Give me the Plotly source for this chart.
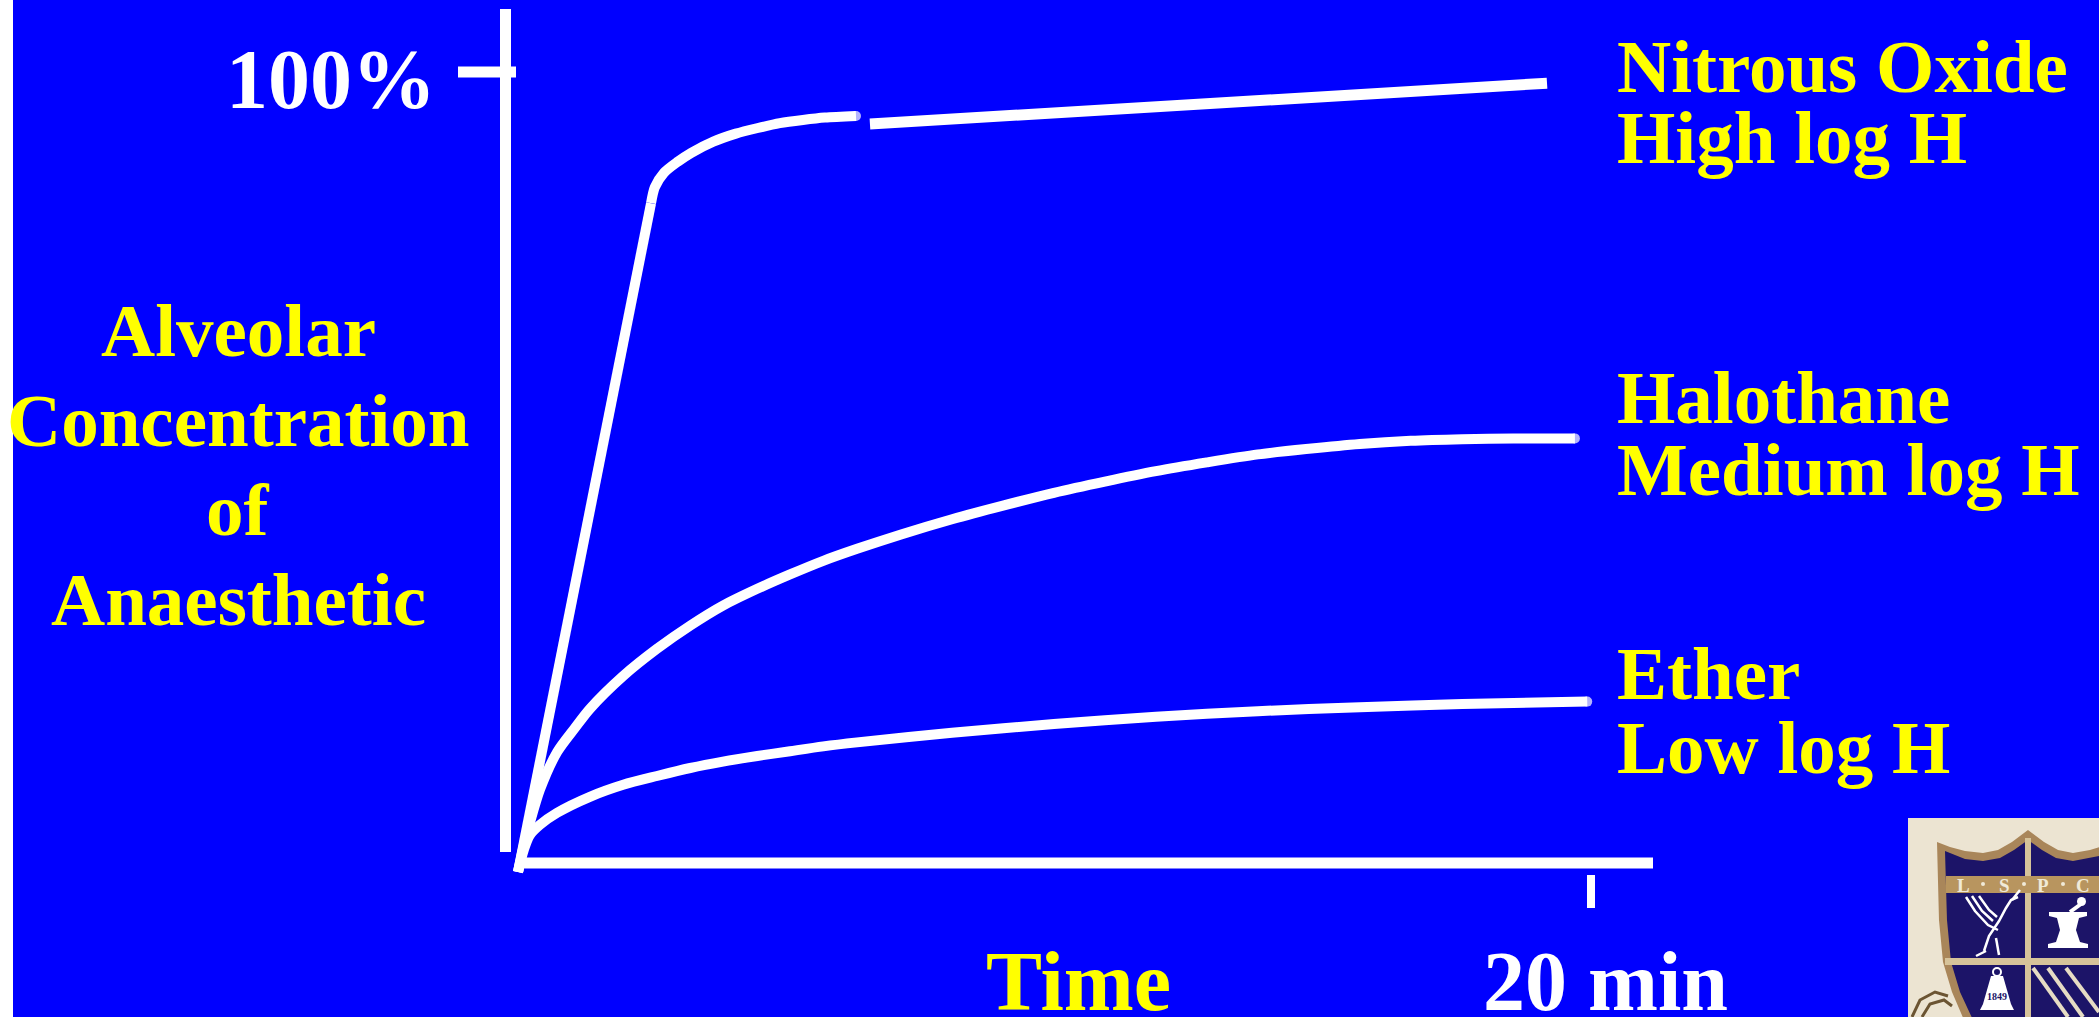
import plotly.graph_objects as go

# ---------------- data (time in minutes, concentration in % of inspired) ----------------
n2o_rise_t = [0.0, 2.48]
n2o_rise_c = [0.0, 83.6]
n2o_curve_t = [2.48, 2.55, 2.72, 2.98, 3.23, 3.64, 4.06, 4.47, 4.88, 5.31, 5.72, 6.30]
n2o_curve_c = [83.6, 85.6, 87.4, 88.8, 89.9, 91.3, 92.3, 93.0, 93.6, 94.0, 94.3, 94.5]
n2o_tail_t = [6.56, 19.18]
n2o_tail_c = [93.5, 98.6]

halo_t = [0.0, 0.09, 0.22, 0.41, 0.73, 1.06, 1.34, 1.96, 2.59, 3.21, 3.82, 4.46, 5.07,
          5.69, 6.32, 7.14, 8.09, 9.04, 9.99, 10.94, 11.89, 12.84, 13.79, 14.74, 15.69,
          16.64, 17.60, 18.55, 19.70]
halo_c = [0.0, 2.8, 6.1, 10.3, 15.0, 18.0, 20.4, 24.5, 27.9, 30.8, 33.3, 35.4, 37.2,
          38.9, 40.4, 42.2, 44.1, 45.8, 47.4, 48.8, 50.1, 51.2, 52.2, 52.9, 53.5,
          53.9, 54.1, 54.2, 54.2]

ether_t = [0.0, 0.11, 0.22, 0.41, 0.73, 1.34, 1.96, 2.59, 3.21, 3.82, 4.46, 5.07, 5.69,
           6.32, 8.09, 9.99, 11.89, 13.79, 15.69, 17.60, 19.93]
ether_c = [0.0, 2.8, 4.6, 5.9, 7.4, 9.4, 10.9, 12.0, 13.0, 13.8, 14.5, 15.1, 15.7,
           16.2, 17.4, 18.5, 19.4, 20.1, 20.6, 21.0, 21.3]

y_tick_vals = [100]
y_tick_text = ["100%"]
x_tick_vals = [20]
x_tick_text = ["20 min"]
x_title = "Time"
y_title_lines = ["Alveolar", "Concentration", "of", "Anaesthetic"]
series_labels = [["Nitrous Oxide", "High log H"],
                 ["Halothane", "Medium log H"],
                 ["Ether", "Low log H"]]
crest_letters = ["L", "S", "P", "C"]
crest_year = "1849"

# ---------------- layout constants ----------------
W, H = 2099, 1017
X0_PX, PX_PER_MIN = 518.0, 53.65
Y0_PX, PX_PER_PCT = 872.0, 8.0
BLUE = "#0000FF"
YELLOW = "#FFFF00"
WHITE = "#FFFFFF"
FONT = "Liberation Serif, Times New Roman, serif"


def dx(px):
    return (px - X0_PX) / PX_PER_MIN


def dy(py):
    return (Y0_PX - py) / PX_PER_PCT


def pp(px, py):
    return px / W, 1 - py / H


def path(pts, close=True):
    s = "M " + " L ".join(f"{px / W:.5f},{1 - py / H:.5f}" for px, py in pts)
    return s + (" Z" if close else "")


def end_marker(n):
    return dict(size=[0] * (n - 1) + [10], color=WHITE, line=dict(width=0))


fig = go.Figure()

fig.add_trace(go.Scatter(x=n2o_rise_t, y=n2o_rise_c, mode="lines",
                         line=dict(color=WHITE, width=10),
                         hoverinfo="skip", showlegend=False))
fig.add_trace(go.Scatter(x=n2o_curve_t, y=n2o_curve_c, mode="lines+markers",
                         line=dict(color=WHITE, width=10, shape="spline", smoothing=0.8),
                         marker=end_marker(len(n2o_curve_t)),
                         hoverinfo="skip", showlegend=False))
fig.add_trace(go.Scatter(x=n2o_tail_t, y=n2o_tail_c, mode="lines",
                         line=dict(color=WHITE, width=11), hoverinfo="skip", showlegend=False))
fig.add_trace(go.Scatter(x=halo_t, y=halo_c, mode="lines+markers",
                         line=dict(color=WHITE, width=10, shape="spline", smoothing=0.8),
                         marker=end_marker(len(halo_t)),
                         hoverinfo="skip", showlegend=False))
fig.add_trace(go.Scatter(x=ether_t, y=ether_c, mode="lines+markers",
                         line=dict(color=WHITE, width=10, shape="spline", smoothing=0.8),
                         marker=end_marker(len(ether_t)),
                         hoverinfo="skip", showlegend=False))

shapes = []
# white strip at left edge
shapes.append(dict(type="rect", xref="paper", yref="paper", x0=0, x1=13 / W, y0=0, y1=1,
                   fillcolor=WHITE, line=dict(width=0), layer="below"))
# axes
shapes.append(dict(type="line", xref="x", yref="y", x0=dx(505.5), x1=dx(505.5),
                   y0=dy(852), y1=dy(9), line=dict(color=WHITE, width=11)))
shapes.append(dict(type="line", xref="x", yref="y", x0=dx(516), x1=dx(1653),
                   y0=dy(863), y1=dy(863), line=dict(color=WHITE, width=11)))
for v in y_tick_vals:
    shapes.append(dict(type="line", xref="x", yref="y", x0=dx(458), x1=dx(516),
                       y0=v, y1=v, line=dict(color=WHITE, width=11)))
for v in x_tick_vals:
    shapes.append(dict(type="line", xref="x", yref="y", x0=v, x1=v,
                       y0=dy(875), y1=dy(908), line=dict(color=WHITE, width=8)))

# ---------------- crest (bottom-right logo) ----------------
BEIGE, TAN, NAVY, LIGHT = "#ECE4D2", "#A9865A", "#1C1468", "#D6C39A"
shapes.append(dict(type="rect", xref="paper", yref="paper", x0=1908 / W, x1=1, y0=0,
                   y1=1 - 818 / H, fillcolor=BEIGE, line=dict(width=0)))
outer = [(1937, 842), (1950, 847), (1965, 851), (1983, 853), (1998, 850), (2012, 842),
         (2028, 830), (2044, 842), (2058, 850), (2073, 853), (2090, 850), (2110, 844),
         (2110, 1020), (1964, 1020), (1952, 992), (1943, 962), (1939, 920)]
inner = [(1945, 851), (1965, 859), (1983, 861), (2000, 858), (2014, 850), (2028, 840),
         (2042, 850), (2056, 858), (2073, 861), (2110, 854),
         (2110, 1020), (1973, 1020), (1960, 992), (1951, 962), (1947, 920)]
shapes.append(dict(type="path", xref="paper", yref="paper", path=path(outer),
                   fillcolor=TAN, line=dict(width=0)))
shapes.append(dict(type="path", xref="paper", yref="paper", path=path(inner),
                   fillcolor=NAVY, line=dict(width=0)))
# cross bars and letter band
shapes.append(dict(type="rect", xref="paper", yref="paper", x0=2025 / W, x1=2031 / W,
                   y0=0, y1=1 - 838 / H, fillcolor=LIGHT, line=dict(width=0)))
shapes.append(dict(type="rect", xref="paper", yref="paper", x0=1945 / W, x1=1,
                   y0=1 - 965 / H, y1=1 - 958 / H, fillcolor=LIGHT, line=dict(width=0)))
shapes.append(dict(type="rect", xref="paper", yref="paper", x0=1946 / W, x1=1,
                   y0=1 - 893 / H, y1=1 - 876 / H, fillcolor="#B8955F", line=dict(width=0)))
for cx in [1983, 2024, 2063]:
    x0, y0 = pp(cx - 2, 886)
    x1, y1 = pp(cx + 2, 882)
    shapes.append(dict(type="circle", xref="paper", yref="paper", x0=x0, x1=x1, y0=y0, y1=y1,
                       fillcolor="#F0EAD8", line=dict(width=0)))
# liver bird (simplified)
bird_strokes = [
    [(1984, 951), (1989, 936), (1999, 921), (2006, 908), (2011, 900), (2018, 897)],
    [(1966, 897), (1975, 911), (1988, 925), (1998, 930)],
    [(1972, 896), (1982, 911), (1993, 921)],
    [(1979, 896), (1989, 910), (1997, 917)],
    [(1986, 951), (1976, 956)], [(1996, 938), (1999, 955)],
    [(2012, 900), (2020, 890)],
]
for s in bird_strokes:
    shapes.append(dict(type="path", xref="paper", yref="paper", path=path(s, close=False),
                       line=dict(color=WHITE, width=2.5)))
# mortar and pestle
mortar = [(2049, 912), (2087, 912), (2087, 916), (2079, 918), (2076, 930), (2080, 942),
          (2088, 944), (2088, 948), (2048, 948), (2048, 944), (2056, 942), (2060, 930),
          (2057, 918), (2049, 916)]
shapes.append(dict(type="path", xref="paper", yref="paper", path=path(mortar),
                   fillcolor=WHITE, line=dict(width=0)))
shapes.append(dict(type="path", xref="paper", yref="paper",
                   path=path([(2070, 912), (2081, 904)], close=False),
                   line=dict(color=WHITE, width=4)))
x0, y0 = pp(2077, 906)
x1, y1 = pp(2086, 897)
shapes.append(dict(type="circle", xref="paper", yref="paper", x0=x0, x1=x1, y0=y0, y1=y1,
                   fillcolor=WHITE, line=dict(width=0)))
# bell
bell = [(1991, 976), (2003, 976), (2007, 990), (2011, 1004), (2014, 1010), (1980, 1010),
        (1983, 1004), (1987, 990)]
shapes.append(dict(type="path", xref="paper", yref="paper", path=path(bell),
                   fillcolor=WHITE, line=dict(width=0)))
x0, y0 = pp(1993, 976)
x1, y1 = pp(2001, 968)
shapes.append(dict(type="circle", xref="paper", yref="paper", x0=x0, x1=x1, y0=y0, y1=y1,
                   fillcolor=NAVY, line=dict(color=WHITE, width=2)))
# diagonal stripes
for a, b in [((2033, 968), (2068, 1017)), ((2048, 968), (2083, 1017)), ((2066, 968), (2099, 1012))]:
    shapes.append(dict(type="path", xref="paper", yref="paper", path=path([a, b], close=False),
                       line=dict(color="#E6DCC4", width=4)))
# feathers outside shield
for s in [[(1912, 1017), (1920, 1000), (1935, 992), (1948, 996)],
          [(1922, 1017), (1930, 1004), (1944, 1000), (1952, 1006)]]:
    shapes.append(dict(type="path", xref="paper", yref="paper", path=path(s, close=False),
                       line=dict(color="#6B5432", width=3)))

# ---------------- text ----------------
annotations = []


def label(text, px, baseline, size, color, anchor):
    cy = baseline - 0.3375 * size
    x, y = pp(px, cy)
    annotations.append(dict(text=text, x=x, y=y, xref="paper", yref="paper",
                            xanchor=anchor, yanchor="middle", showarrow=False, borderpad=0,
                            font=dict(family=FONT, size=size, color=color, weight="bold")))


label(y_tick_text[0], 437, 108, 84, WHITE, "right")
label(x_title, 1078, 1010, 84, YELLOW, "center")
label(x_tick_text[0], 1605, 1010, 84, WHITE, "center")
for txt, base in zip(y_title_lines, [356, 446, 535, 625]):
    label(txt, 238, base, 75, YELLOW, "center")
for pair, bases in zip(series_labels, [(92, 163), (423, 495), (699, 773)]):
    for txt, base in zip(pair, bases):
        label(txt, 1616, base, 75, YELLOW, "left")
for letter, cx in zip(crest_letters, [1963, 2004, 2043, 2083]):
    label(letter, cx, 892, 19, "#F0EAD8", "center")
label(crest_year, 1997, 1000, 10, NAVY, "center")

fig.update_layout(
    width=W, height=H,
    margin=dict(l=0, r=0, t=0, b=0, pad=0),
    paper_bgcolor=BLUE, plot_bgcolor=BLUE,
    xaxis=dict(visible=False, range=[dx(0), dx(W)], fixedrange=True),
    yaxis=dict(visible=False, range=[dy(H), dy(0)], fixedrange=True),
    shapes=shapes, annotations=annotations,
    showlegend=False,
)

fig.write_html(
    "out.html",
    config={"displayModeBar": False},
    post_script="document.body.style.margin='0';document.body.style.overflow='hidden';",
)
